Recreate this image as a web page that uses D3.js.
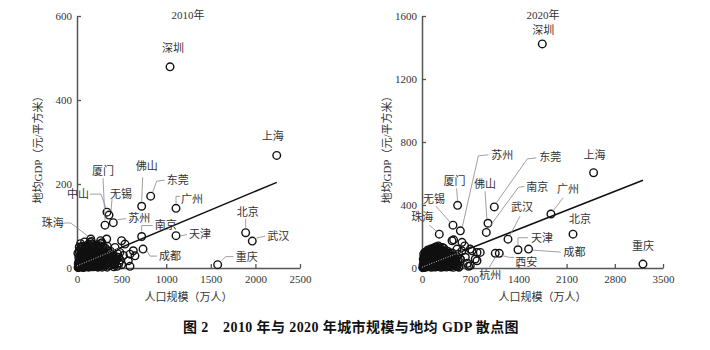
<!DOCTYPE html>
<html>
<head>
<meta charset="utf-8">
<script src="https://cdn.jsdelivr.net/npm/d3@7"></script>
<style>
body { margin: 0; background: #fff; }
svg text { font-family: "Liberation Serif", "Noto Sans CJK SC", serif; fill: #333; }
.lbl { font-size: 11px; }
.tick text { font-size: 11px; fill: #333; }
.caption { font-size: 14px; font-weight: bold; fill: #111; letter-spacing: 0.4px; }
</style>
</head>
<body>
<svg width="710" height="350"></svg>
<script>
// **** data ****

// 2010: labelled cities [name, population (10k), GDP per m2]
const named2010 = [
  ['深圳', 1043, 479], ['上海', 2239, 268], ['北京', 1891, 84], ['武汉', 1965, 64],
  ['重庆', 1577, 8], ['天津', 1110, 77], ['广州', 1110, 142], ['东莞', 826, 171],
  ['佛山', 725, 147], ['南京', 725, 75], ['苏州', 407, 108], ['无锡', 359, 126],
  ['中山', 336, 133], ['厦门', 314, 102], ['珠海', 154, 69], ['成都', 740, 45]
];

// 2010: other cities [population, GDP per m2]
const others2010 = [
  [30,4],[45,8],[60,3],[75,12],[90,6],[110,15],[125,9],[140,20],[155,5],[170,14],[185,25],[200,10],
  [215,18],[230,7],[245,30],[260,12],[275,22],[290,8],[305,16],[320,28],[335,11],[350,19],[365,6],
  [380,24],[395,13],[410,9],[430,17],[450,4],
  [20,15],[35,22],[50,30],[65,18],[80,35],[95,26],[105,40],[120,31],[135,44],[150,36],[165,48],
  [180,29],[195,39],[210,33],[225,42],[240,26],[255,36],[270,31],[285,45],[300,38],[315,24],[330,34],[345,41],
  [25,50],[40,58],[70,46],[85,62],[100,52],[130,57],[160,63],[190,52],[220,55],[250,48],[280,60],
  [15,2],[22,6],[38,10],[52,14],[68,2],[82,9],[97,19],[112,3],[128,13],[143,27],[158,11],[173,21],
  [188,3],[203,16],[218,28],[233,2],[248,19],[263,5],[278,15],[293,33],[308,4],[323,20],[338,2],
  [353,13],[368,28],[383,8],[398,22],[413,3],[428,12],
  [265,65],[333,69],[538,57],[426,49],[258,53],[146,61],[53,49],[445,21],[426,9],[594,33],[650,29],
  [631,41],[575,17],[594,4],[480,37],[520,30],[470,12],[500,65],
  [12,1],[18,4],[26,2],[33,7],[41,3],[48,11],[56,5],[63,9],[71,1],[78,6],[86,14],[93,3],[101,8],
  [108,22],[116,5],[123,17],[131,2],[138,11],[146,7],[153,24],[161,3],[168,9],[176,17],[183,6],
  [191,13],[198,21],[206,4],[213,11],[221,23],[228,9],[236,15],[243,3],[251,10],[258,25],[266,7],
  [273,18],[281,2],[288,12],[296,26],[303,9],
  [14,10],[28,17],[42,25],[57,20],[72,28],[87,21],[102,29],[117,37],[132,34],[147,41],[162,31],
  [177,38],[192,45],[207,24],[222,35],[237,40],[252,28],[267,43],[282,37],[297,30],
  [10,35],[24,40],[36,45],[48,38],[62,52],[76,41],[90,48],[118,50],[145,52],[172,56],[205,47],
  [235,51],[262,58],[290,50],[318,47],[340,52],[360,35],[375,40],[390,31],[405,26],[420,20],
  [440,27],[455,34],[465,25],[485,19],[500,8],
  [20,25],[32,30],[44,19],[58,35],[73,23],[88,42],[103,33],[118,25],[133,19],[148,16],[163,26],
  [178,11],[193,8],[208,32],[223,14],[238,22],[253,41],[268,27],[283,20],[298,13]
];

// 2020: labelled cities
const named2020 = [
  ['深圳', 1747, 1423], ['上海', 2492, 605], ['东莞', 1050, 388], ['苏州', 557, 236],
  ['厦门', 517, 398], ['佛山', 958, 284], ['南京', 934, 226], ['武汉', 1249, 183],
  ['广州', 1873, 343], ['北京', 2193, 215], ['天津', 1394, 116], ['成都', 1548, 120],
  ['西安', 1122, 93], ['杭州', 1064, 93], ['无锡', 450, 272], ['珠海', 251, 215],
  ['重庆', 3209, 25]
];

// 2020: other cities
const others2020 = [
  [20,5],[40,12],[60,25],[80,8],[100,35],[120,18],[140,50],[160,10],[180,40],[200,28],[220,60],
  [240,15],[260,45],[280,75],[300,22],[320,55],[340,35],[360,85],[380,12],[400,65],[420,30],[440,95],
  [460,48],[480,20],[500,70],[520,40],[540,10],[560,55],
  [30,30],[50,45],[70,60],[90,75],[110,55],[130,85],[150,70],[170,95],[190,80],[210,100],[230,75],
  [250,90],[270,65],[290,105],[310,80],[330,60],[350,110],[370,45],[390,90],[410,50],
  [25,90],[45,100],[65,85],[85,115],[105,95],[125,120],[145,105],[175,120],[205,115],[235,125],
  [265,110],[295,130],
  [15,3],[35,18],[55,8],[75,40],[95,15],[115,28],[135,5],[155,32],[175,22],[195,6],[215,38],[235,12],
  [255,30],[275,4],[295,42],[315,14],[335,26],[355,6],[375,32],[395,18],[415,8],[435,26],[455,4],
  [475,38],[495,12],[515,24],[535,4],
  [96,109],[168,109],[256,103],[436,173],[581,163],[508,120],[581,109],[726,109],[799,46],[629,68],
  [531,89],[677,11],[459,36],[459,179],[701,120],[799,99],[774,57],[701,15],[556,57],[846,99],
  [620,140],[660,30],
  [12,2],[22,15],[32,8],[42,28],[52,18],[62,40],[72,12],[82,52],[92,22],[102,65],[112,30],[122,48],
  [132,15],[142,75],[152,38],[162,60],[172,8],[182,85],[192,52],[202,20],[212,72],[222,40],[232,95],
  [242,28],[252,62],[262,10],[272,88],[282,50],[292,35],[302,70],[312,8],[322,95],[332,45],[342,22],
  [352,78],[362,55],[372,18],[382,62],[392,38],[402,12],
  [18,55],[28,70],[38,62],[48,80],[58,95],[68,72],[78,105],[88,88],[98,100],[108,80],[118,105],
  [128,95],[138,115],[148,88],[158,125],[168,110],[178,100],[188,130],[198,92],[208,135],[218,105],
  [228,118],[238,140],[248,100],[258,128],[268,92],[278,118],[288,85],[298,110],[308,98],[318,125],
  [328,85],[338,100],[348,72],[358,95],[368,65],[378,105],[388,75],[398,55],[408,88],[418,70],
  [428,45],[438,60],[448,20],[458,75],[468,30],[478,58],[488,48],[498,28],[510,10],
  [15,20],[25,35],[35,48],[45,5],[55,60],[65,30],[75,22],[85,68],[95,45],[105,10],[115,78],[125,62],
  [135,35],[145,20],[155,92],[165,45],[175,68],[185,28],[195,110],[205,58]
];

// fitted lines, end points [population, GDP per m2]
const trend2010 = [[0, 5], [2240, 204]];
const trend2020 = [[0, 5], [3209, 557]];

const xTicks2010 = [0, 500, 1000, 1500, 2000, 2500];
const yTicks2010 = [0, 200, 400, 600];
const xTicks2020 = [0, 700, 1400, 2100, 2800, 3500];
const yTicks2020 = [0, 400, 800, 1200, 1600];

// **** label placement (pixel offsets from the point) ****
const labelPos2010 = {
  '深圳': { dx: 3, dy: -19, a: 'middle' },
  '上海': { dx: -4, dy: -19, a: 'middle' },
  '北京': { dx: 2, dy: -21, a: 'middle', l: [[0,-5],[0,-14]] },
  '武汉': { dx: 15, dy: -5, a: 'start', l: [[4,-3],[13,-5]] },
  '重庆': { dx: 18, dy: -8, a: 'start', l: [[4,-4],[8,-8],[16,-8]] },
  '天津': { dx: 13, dy: -2, a: 'start', l: [[5,0],[11,-1]] },
  '广州': { dx: 5, dy: -9, a: 'start', l: [[0,-5],[0,-12],[4,-12]] },
  '东莞': { dx: 16, dy: -16, a: 'start', l: [[2,-4],[6,-15],[14,-16]] },
  '佛山': { dx: 5, dy: -40, a: 'middle', l: [[0,-5],[1,-29]] },
  '南京': { dx: 13, dy: -12, a: 'start', l: [[0,-5],[0,-11],[11,-11]] },
  '苏州': { dx: 15, dy: -5, a: 'start', l: [[4,-3],[13,-4]] },
  '无锡': { dx: 12, dy: -21, a: 'middle', l: [[2,-4],[3,-16]] },
  '中山': { dx: -29, dy: -18, a: 'middle', l: [[-1,-4],[-6,-18],[-17,-18]] },
  '厦门': { dx: -2, dy: -54, a: 'middle', l: [[0,-5],[-2,-47]] },
  '珠海': { dx: -38, dy: -16, a: 'middle', l: [[-3,-3],[-20,-16],[-27,-16]] },
  '成都': { dx: 16, dy: 7, a: 'start', l: [[4,2],[7,7],[14,7]] }
};

const labelPos2020 = {
  '深圳': { dx: 1, dy: -14, a: 'middle' },
  '上海': { dx: 1, dy: -18, a: 'middle' },
  '东莞': { dx: 45, dy: -50, a: 'start', l: [[2,-4],[33,-48],[42,-49]] },
  '苏州': { dx: 31, dy: -76, a: 'start', l: [[2,-4],[18,-75],[28,-76]] },
  '厦门': { dx: -3, dy: -24, a: 'middle', l: [[0,-4],[-1,-17]] },
  '佛山': { dx: -3, dy: -39, a: 'middle', l: [[-1,-4],[-3,-32]] },
  '南京': { dx: 40, dy: -45, a: 'start', l: [[2,-4],[32,-45],[38,-46]] },
  '武汉': { dx: 14, dy: -32, a: 'middle', l: [[2,-4],[12,-23]] },
  '广州': { dx: 17, dy: -25, a: 'middle', l: [[2,-3],[12,-16]] },
  '北京': { dx: 7, dy: -15, a: 'middle' },
  '天津': { dx: 13, dy: -12, a: 'start', l: [[0,-4],[0,-12],[10,-12]] },
  '成都': { dx: 35, dy: 3, a: 'start', l: [[4,1],[32,3]] },
  '西安': { dx: 16, dy: 9, a: 'start', l: [[2,2],[10,4],[15,4]] },
  '杭州': { dx: -5, dy: 22, a: 'middle', l: [[0,4],[-6,14]] },
  '无锡': { dx: -19, dy: -26, a: 'middle', l: [[-3,-3],[-17,-19]] },
  '珠海': { dx: -17, dy: -17, a: 'middle', l: [[-3,-3],[-10,-9]] },
  '重庆': { dx: 0, dy: -18, a: 'middle' }
};

const svg = d3.select('svg');
svg.append('rect').attr('width', 710).attr('height', 350).attr('fill', '#fff');

function drawPanel(p) {
  const xScale = d3.scaleLinear().domain([0, p.xTicks[p.xTicks.length - 1]]).range([p.left, p.right]);
  const yScale = d3.scaleLinear().domain([0, p.yTicks[p.yTicks.length - 1]]).range([p.bottom, p.top]);

  const xAxis = svg.append('g')
    .attr('transform', `translate(0,${p.bottom})`)
    .call(d3.axisBottom(xScale).tickValues(p.xTicks).tickFormat(d3.format('d'))
      .tickSizeInner(-4).tickSizeOuter(0).tickPadding(7));
  const yAxis = svg.append('g')
    .attr('transform', `translate(${p.left},0)`)
    .call(d3.axisLeft(yScale).tickValues(p.yTicks).tickFormat(d3.format('d'))
      .tickSizeInner(-4).tickSizeOuter(0).tickPadding(5));
  [xAxis, yAxis].forEach(ax => {
    ax.select('.domain').attr('stroke', '#555').attr('stroke-width', 1.5);
    ax.selectAll('.tick line').attr('stroke', '#555').attr('stroke-width', 1.3);
    ax.selectAll('.tick text').attr('font-family', null);
  });

  // all cities as hollow circles
  const pts = p.others.map(d => ({ pop: d[0], gdp: d[1] }))
    .concat(p.named.map(d => ({ name: d[0], pop: d[1], gdp: d[2] })));
  svg.append('g').selectAll('circle')
    .data(pts)
    .enter()
    .append('circle')
    .attr('cx', d => xScale(d.pop))
    .attr('cy', d => yScale(d.gdp))
    .attr('r', 3.8)
    .attr('fill', 'none')
    .attr('stroke', '#111')
    .attr('stroke-width', 1.4);

  // fitted line
  const line = d3.line().x(d => xScale(d[0])).y(d => yScale(d[1]));
  svg.append('path').attr('d', line(p.trend))
    .attr('fill', 'none').attr('stroke', '#111').attr('stroke-width', 1.5);
  const clipId = 'clip' + p.title;
  svg.append('clipPath').attr('id', clipId).append('rect')
    .attr('x', p.left).attr('y', p.top).attr('width', p.clipW).attr('height', p.bottom - p.top);
  svg.append('path').attr('d', line(p.trend))
    .attr('clip-path', `url(#${clipId})`)
    .attr('fill', 'none').attr('stroke', '#bbb').attr('stroke-width', 1).attr('stroke-dasharray', '1,1.5');

  // labels with leader lines
  p.named.forEach(d => {
    const cx = xScale(d[1]), cy = yScale(d[2]);
    const lp = p.labels[d[0]];
    if (lp.l) {
      svg.append('polyline')
        .attr('points', lp.l.map(o => `${cx + o[0]},${cy + o[1]}`).join(' '))
        .attr('fill', 'none').attr('stroke', '#888').attr('stroke-width', 0.8);
    }
    svg.append('text')
      .attr('class', 'lbl')
      .attr('x', cx + lp.dx)
      .attr('y', cy + lp.dy)
      .attr('text-anchor', lp.a)
      .attr('dominant-baseline', 'central')
      .text(d[0]);
  });

  svg.append('text').attr('class', 'lbl')
    .attr('x', p.titleX).attr('y', 15)
    .attr('text-anchor', 'middle').attr('dominant-baseline', 'central')
    .text(p.title);

  svg.append('text').attr('class', 'lbl')
    .attr('transform', `translate(${p.ylabX},147) rotate(-90)`)
    .attr('text-anchor', 'middle').attr('dominant-baseline', 'central')
    .text('地均GDP（元/平方米）');

  svg.append('text').attr('class', 'lbl')
    .attr('x', (p.left + p.right) / 2).attr('y', 297)
    .attr('text-anchor', 'middle').attr('dominant-baseline', 'central')
    .text('人口规模（万人）');
}

drawPanel({
  title: '2010年', titleX: 188, ylabX: 38,
  left: 77, right: 300, top: 16, bottom: 268, clipW: 42,
  xTicks: xTicks2010, yTicks: yTicks2010,
  named: named2010, others: others2010, trend: trend2010, labels: labelPos2010
});

drawPanel({
  title: '2020年', titleX: 543, ylabX: 387,
  left: 422, right: 663, top: 16, bottom: 268, clipW: 40,
  xTicks: xTicks2020, yTicks: yTicks2020,
  named: named2020, others: others2020, trend: trend2020, labels: labelPos2020
});

svg.append('text')
  .attr('class', 'caption')
  .attr('x', 351).attr('y', 327)
  .attr('text-anchor', 'middle').attr('dominant-baseline', 'central')
  .text('图 2　2010 年与 2020 年城市规模与地均 GDP 散点图');
</script>
</body>
</html>
